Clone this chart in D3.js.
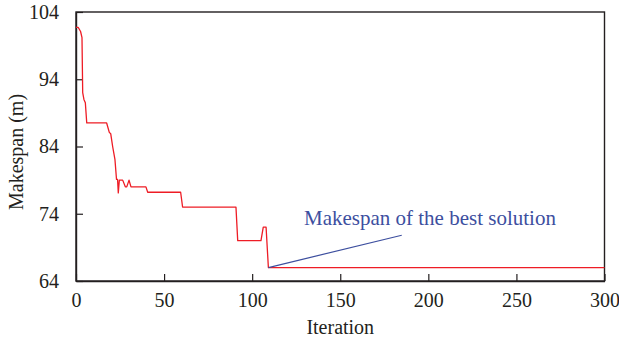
<!DOCTYPE html>
<html>
<head>
<meta charset="utf-8">
<script src="https://cdn.jsdelivr.net/npm/d3@7"></script>
<style>
  html, body { margin: 0; padding: 0; background: #fff; }
  svg { display: block; }
</style>
</head>
<body>
<div id="chart"></div>
<script>
// Convergence curve: makespan vs. iteration
const iterations = [0, 1.3, 2.6, 3.4, 3.8, 4.5, 5.3, 6.1, 17.4, 18.9, 19.7, 20.8, 22.1, 23.0, 23.6,
  24.0, 24.6, 26.5, 28.0, 28.8, 30.1, 31.2, 39.7, 40.7, 59.4, 60.5, 90.8, 91.8, 105.0, 106.3,
  107.9, 109.2, 300];
const makespan = [101.7, 101.7, 101.1, 100.2, 92.0, 91.0, 90.5, 87.5, 87.5, 86.1, 85.9, 84.0, 82.1, 79.1, 79.1,
  77.1, 79.0, 79.0, 78.0, 78.0, 79.0, 78.0, 78.0, 77.2, 77.2, 75.0, 75.0, 70.0, 70.0, 72.0,
  72.0, 66.0, 66.0];

const xTicks = [0, 50, 100, 150, 200, 250, 300];
const yTicks = [64, 74, 84, 94, 104];

// annotation (data coordinates)
const noteText = 'Makespan of the best solution';
const notePoint = [109.2, 66.0];
const noteLineEnd = [184.9, 70.8];
const noteTextAt = [129.4, 72.4];

const W = 619, H = 344;
const margin = { top: 12, right: 14.5, bottom: 63, left: 76 };
const width = W - margin.left - margin.right;
const height = H - margin.top - margin.bottom;

const axisColor = '#231f20';
const lineColor = '#ee1c25';
const noteColor = '#3d4f9f';
const font = '"Liberation Serif", "DejaVu Serif", serif';

const x = d3.scaleLinear().domain([0, 300]).range([0, width]);
const y = d3.scaleLinear().domain([64, 104]).range([height, 0]);

const svg = d3.select('#chart')
  .append('svg')
  .attr('width', W)
  .attr('height', H);

const g = svg.append('g')
  .attr('transform', `translate(${margin.left},${margin.top})`);

// Frame
g.append('rect')
  .attr('x', 0).attr('y', 0)
  .attr('width', width).attr('height', height)
  .attr('fill', 'none')
  .attr('stroke', axisColor)
  .attr('stroke-width', 1.4);

// Axes (ticks pointing inward)
const xAxis = g.append('g')
  .attr('transform', `translate(0,${height})`)
  .call(d3.axisBottom(x).tickValues(xTicks).tickSizeInner(-7).tickSizeOuter(0).tickPadding(12));

const yAxis = g.append('g')
  .call(d3.axisLeft(y).tickValues(yTicks).tickSizeInner(-7).tickSizeOuter(0).tickPadding(17));

[xAxis, yAxis].forEach(a => {
  a.select('.domain').attr('stroke', axisColor).attr('stroke-width', 1.4);
  a.selectAll('.tick line').attr('stroke', axisColor).attr('stroke-width', 1.2);
  a.selectAll('.tick text')
    .attr('fill', axisColor)
    .attr('font-family', font)
    .attr('font-size', '20px');
});

// Axis labels
svg.append('text')
  .attr('x', margin.left + width / 2)
  .attr('y', 334)
  .attr('text-anchor', 'middle')
  .attr('fill', axisColor)
  .attr('font-family', font)
  .attr('font-size', '20px')
  .text('Iteration');

svg.append('text')
  .attr('transform', 'rotate(-90)')
  .attr('x', -152)
  .attr('y', 23)
  .attr('text-anchor', 'middle')
  .attr('fill', axisColor)
  .attr('font-family', font)
  .attr('font-size', '20px')
  .text('Makespan (m)');

// Convergence line
const data = iterations.map((it, i) => ({ it, v: makespan[i] }));
const line = d3.line()
  .x(d => x(d.it))
  .y(d => y(d.v));

g.append('path')
  .datum(data)
  .attr('d', line)
  .attr('fill', 'none')
  .attr('stroke', lineColor)
  .attr('stroke-width', 1.3)
  .attr('stroke-linejoin', 'round');

// Annotation
g.append('line')
  .attr('x1', x(notePoint[0])).attr('y1', y(notePoint[1]))
  .attr('x2', x(noteLineEnd[0])).attr('y2', y(noteLineEnd[1]))
  .attr('stroke', noteColor)
  .attr('stroke-width', 1.2);

g.append('text')
  .attr('x', x(noteTextAt[0]))
  .attr('y', y(noteTextAt[1]))
  .attr('fill', noteColor)
  .attr('font-family', font)
  .attr('font-size', '21px')
  .text(noteText);
</script>
</body>
</html>
